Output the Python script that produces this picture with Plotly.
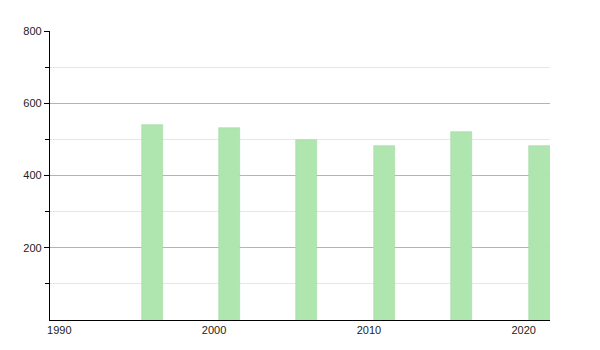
import plotly.graph_objects as go

years = [1996, 2001, 2006, 2011, 2016, 2021]
values = [541, 531, 497, 483, 520, 483]
x_ticks = [1990, 2000, 2010, 2020]
y_ticks = [200, 400, 600, 800]
y_minor = [100, 300, 500, 700]

fig = go.Figure()
fig.add_trace(go.Bar(
    x=years, y=values, width=1.36,
    marker=dict(color="#afe5af", line=dict(color="#a6d8a6", width=0.6)),
    hoverinfo="x+y",
))

fig.update_layout(
    width=600, height=350,
    margin=dict(l=50, r=50, t=31, b=30),
    paper_bgcolor="white", plot_bgcolor="white",
    showlegend=False,
    font=dict(family="Liberation Sans, Arial, sans-serif", size=11, color="#222"),
    bargap=0,
)
fig.update_xaxes(
    range=[1989.4, 2021.7],
    tickvals=x_ticks, ticktext=[str(v) for v in x_ticks],
    showgrid=False, showline=True, linecolor="black", linewidth=1.2,
    ticks="", zeroline=False, fixedrange=True,
)
fig.update_yaxes(
    range=[0, 800],
    tickvals=y_ticks, ticktext=[str(v) for v in y_ticks],
    showgrid=True, gridcolor="#b4b4b4", gridwidth=1,
    showline=True, linecolor="black", linewidth=1.2,
    ticks="outside", ticklen=5, tickcolor="black", tickwidth=1,
    minor=dict(tickvals=y_minor, ticks="outside", ticklen=4, tickcolor="black",
               showgrid=True, gridcolor="#e6e6e6", gridwidth=1),
    zeroline=False, fixedrange=True,
)

fig.write_html("out.html")
